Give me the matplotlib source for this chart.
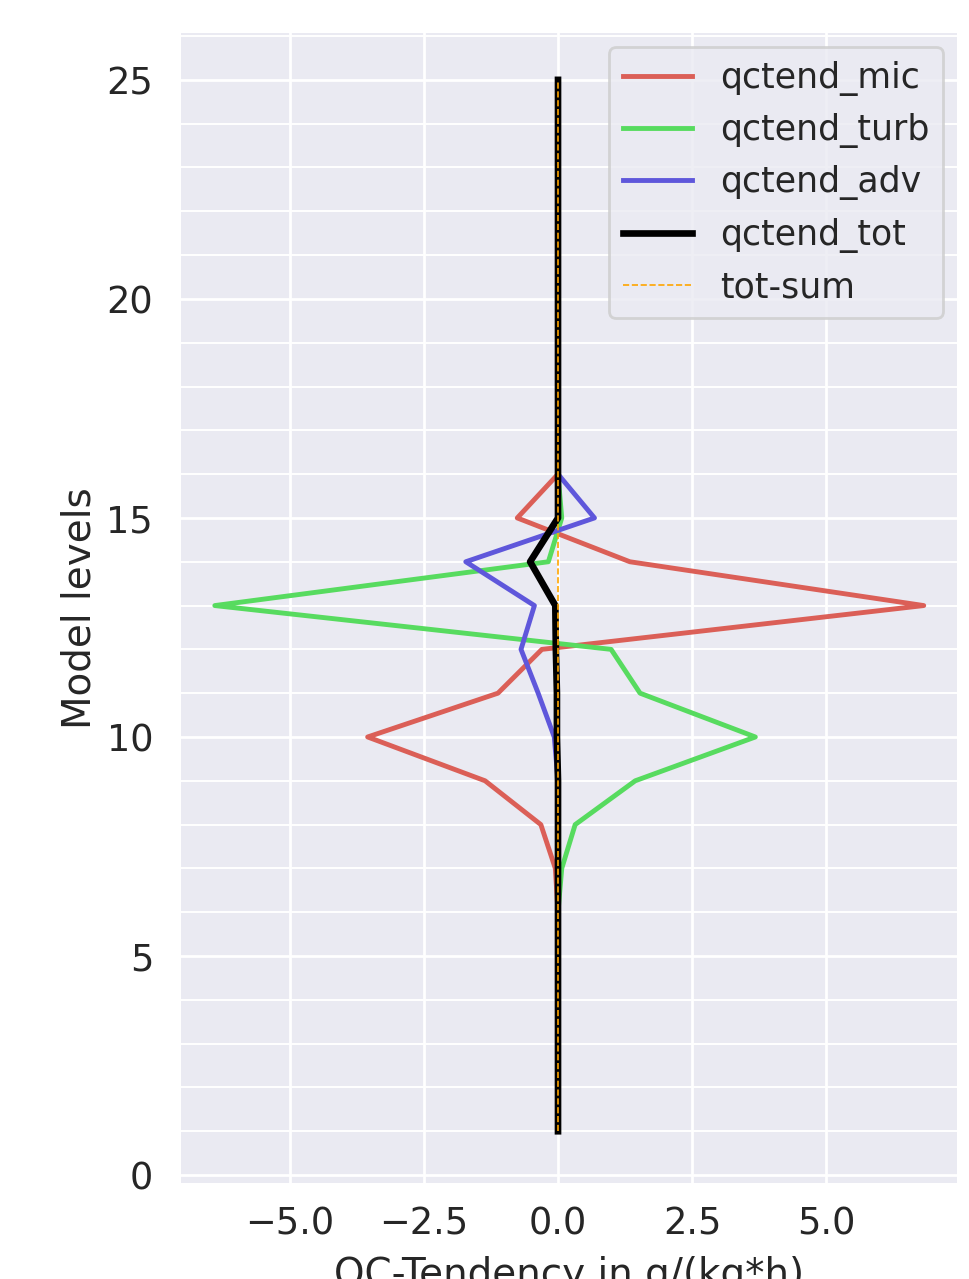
"""
Vertical profile of cloud-water (QC) tendencies per model level.
"""
import matplotlib
matplotlib.use("Agg")
import matplotlib.pyplot as plt
from matplotlib.ticker import MultipleLocator

levels = list(range(1, 26))

# values per level, level 1 .. 25 (g/(kg*h))
qctend_mic = [0, 0, 0, 0, 0, 0, -0.05, -0.32, -1.36, -3.55, -1.12, -0.30,
              6.82, 1.34, -0.76, 0, 0, 0, 0, 0, 0, 0, 0, 0, 0]
qctend_turb = [0, 0, 0, 0, 0, 0, 0.07, 0.32, 1.44, 3.68, 1.53, 0.99,
               -6.40, -0.18, 0.07, 0, 0, 0, 0, 0, 0, 0, 0, 0, 0]
qctend_adv = [0, 0, 0, 0, 0, 0, 0, 0, 0, -0.07, -0.37, -0.69,
              -0.44, -1.72, 0.68, 0, 0, 0, 0, 0, 0, 0, 0, 0, 0]
qctend_tot = [0, 0, 0, 0, 0, 0, 0, 0, 0, -0.02, -0.02, -0.04,
              -0.05, -0.52, 0.0, 0, 0, 0, 0, 0, 0, 0, 0, 0, 0]
tot_sum = [0] * 25

text_col = "#262626"
plt.rcParams["font.family"] = "DejaVu Sans"
plt.rcParams["text.color"] = text_col
plt.rcParams["axes.labelcolor"] = text_col
plt.rcParams["xtick.color"] = text_col
plt.rcParams["ytick.color"] = text_col

fig = plt.figure(figsize=(9.70, 12.79), dpi=100)
ax = fig.add_axes([0.1866, 0.0751, 0.800, 0.8991])
ax.set_facecolor("#EAEAF2")
for s in ax.spines.values():
    s.set_visible(False)

ax.plot(qctend_mic, levels, color="#db5f57", lw=3.5, label="qctend_mic")
ax.plot(qctend_turb, levels, color="#57db5f", lw=3.5, label="qctend_turb")
ax.plot(qctend_adv, levels, color="#5f57db", lw=3.5, label="qctend_adv")
ax.plot(qctend_tot, levels, color="black", lw=4.8, label="qctend_tot")
ax.plot(tot_sum, levels, color="orange", lw=1.2, ls="--", label="tot-sum")

ax.set_xlim(-7.03, 7.44)
ax.set_ylim(-0.18, 26.07)
ax.xaxis.set_major_locator(MultipleLocator(2.5))
ax.yaxis.set_major_locator(MultipleLocator(5))
ax.yaxis.set_minor_locator(MultipleLocator(1))
ax.set_axisbelow(True)
ax.grid(which="major", color="white", lw=2.0)
ax.grid(which="minor", axis="y", color="white", lw=1.4)
ax.tick_params(which="both", length=0, labelsize=26.5)
ax.tick_params(axis="x", pad=16)
ax.tick_params(axis="y", pad=20)

ax.set_xlabel("QC-Tendency in g/(kg*h)", fontsize=28, labelpad=10)
ax.set_ylabel("Model levels", fontsize=28, labelpad=6)

leg = ax.legend(loc="upper right", fontsize=25, frameon=True, fancybox=True,
                borderaxespad=0.4, labelspacing=0.5)
leg.get_frame().set_facecolor("#EAEAF2")
leg.get_frame().set_edgecolor("#cccccc")
leg.get_frame().set_linewidth(2.0)

fig.savefig("out.png", dpi=100)
